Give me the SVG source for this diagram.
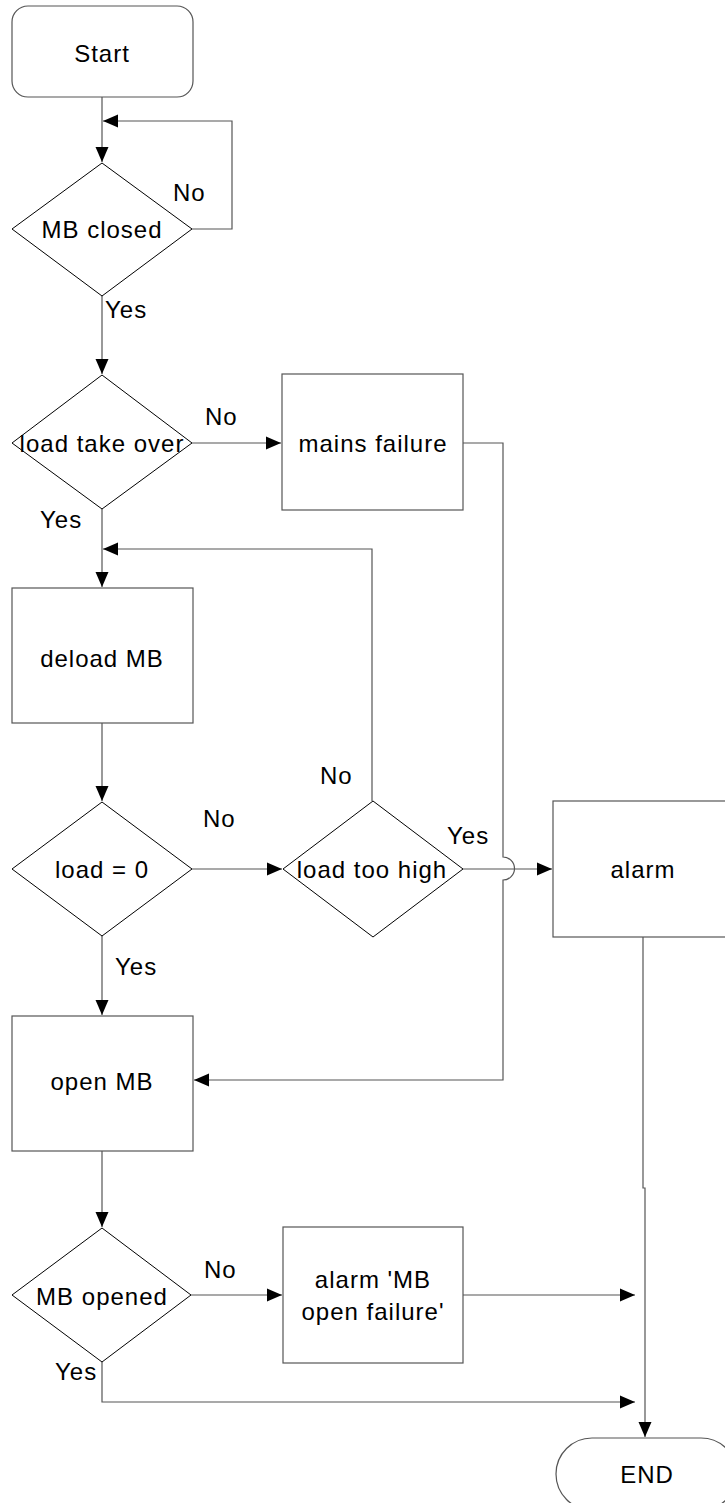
<svg xmlns="http://www.w3.org/2000/svg" width="725" height="1503" viewBox="0 0 725 1503">
<style>
.n{fill:#fff;stroke:#555;stroke-width:1.2}
.d{fill:#fff;stroke:#000;stroke-width:1}
.c{fill:none;stroke:#555;stroke-width:1.2}
text{font-family:"Liberation Sans",Arial,sans-serif;font-size:24px;letter-spacing:1px;fill:#000}
.m{text-anchor:middle}
</style>
<defs>
<marker id="a" markerUnits="userSpaceOnUse" markerWidth="16" markerHeight="14" refX="15" refY="7" orient="auto">
<path d="M0,0.5 L15,7 L0,13.5 Z" fill="#000"/>
</marker>
</defs>
<rect width="725" height="1503" fill="#fff"/>
<g id="connectors">
<path class="c" d="M102,97 V162" marker-end="url(#a)"/>
<path class="c" d="M192,229 H232 V121 H103" marker-end="url(#a)"/>
<path class="c" d="M102,296 V374" marker-end="url(#a)"/>
<path class="c" d="M192,443 H281" marker-end="url(#a)"/>
<path class="c" d="M463,443 H503 V857 A11.5,11.5 0 0 1 503,880 V1080 H194" marker-end="url(#a)"/>
<path class="c" d="M102,509 V587" marker-end="url(#a)"/>
<path class="c" d="M372,801 V549 H103" marker-end="url(#a)"/>
<path class="c" d="M102,723 V801" marker-end="url(#a)"/>
<path class="c" d="M192,869 H282" marker-end="url(#a)"/>
<path class="c" d="M463,869 H552" marker-end="url(#a)"/>
<path class="c" d="M102,936 V1015" marker-end="url(#a)"/>
<path class="c" d="M643,937 V1188 H645 V1437" marker-end="url(#a)"/>
<path class="c" d="M102,1151 V1227" marker-end="url(#a)"/>
<path class="c" d="M191,1295 H282" marker-end="url(#a)"/>
<path class="c" d="M463,1295 H635" marker-end="url(#a)"/>
<path class="c" d="M102,1362 V1402 H635" marker-end="url(#a)"/>
</g>
<g id="start">
<rect class="n" x="12" y="6" width="181" height="91" rx="16"/>
<text class="m" x="102" y="62">Start</text>
</g>
<g id="mb-closed">
<path class="d" d="M102,163 L192,229 L102,296 L12,229 Z"/>
<text class="m" x="102" y="238">MB closed</text>
</g>
<text x="173" y="201">No</text>
<text x="105" y="318">Yes</text>
<g id="load-take-over">
<path class="d" d="M102,375 L192,443 L102,509 L12,443 Z"/>
<text class="m" x="102" y="452">load take over</text>
</g>
<text x="205" y="425">No</text>
<text x="40" y="528">Yes</text>
<g id="mains-failure">
<rect class="n" x="282" y="374" width="181" height="136"/>
<text class="m" x="373" y="452">mains failure</text>
</g>
<g id="deload-mb">
<rect class="n" x="12" y="588" width="181" height="135"/>
<text class="m" x="102" y="667">deload MB</text>
</g>
<g id="load-zero">
<path class="d" d="M102,802 L192,869 L102,936 L12,869 Z"/>
<text class="m" x="102" y="878">load = 0</text>
</g>
<text x="203" y="827">No</text>
<text x="115" y="975">Yes</text>
<g id="load-too-high">
<path class="d" d="M373,801 L463,869 L373,937 L283,869 Z"/>
<text class="m" x="372" y="878">load too high</text>
</g>
<text x="320" y="784">No</text>
<text x="447" y="844">Yes</text>
<g id="alarm">
<rect class="n" x="553" y="801" width="190" height="136"/>
<text class="m" x="643" y="878">alarm</text>
</g>
<g id="open-mb">
<rect class="n" x="12" y="1016" width="181" height="135"/>
<text class="m" x="102" y="1090">open MB</text>
</g>
<g id="mb-opened">
<path class="d" d="M102,1228 L191,1295 L102,1362 L12,1295 Z"/>
<text class="m" x="102" y="1305">MB opened</text>
</g>
<text x="204" y="1278">No</text>
<text x="55" y="1380">Yes</text>
<g id="alarm-mb-open-failure">
<rect class="n" x="283" y="1227" width="180" height="136"/>
<text class="m" x="373" y="1288">alarm 'MB</text>
<text class="m" x="373" y="1320">open failure'</text>
</g>
<g id="end">
<rect class="n" x="556" y="1438" width="181" height="72" rx="36"/>
<text class="m" x="647" y="1483">END</text>
</g>
</svg>
